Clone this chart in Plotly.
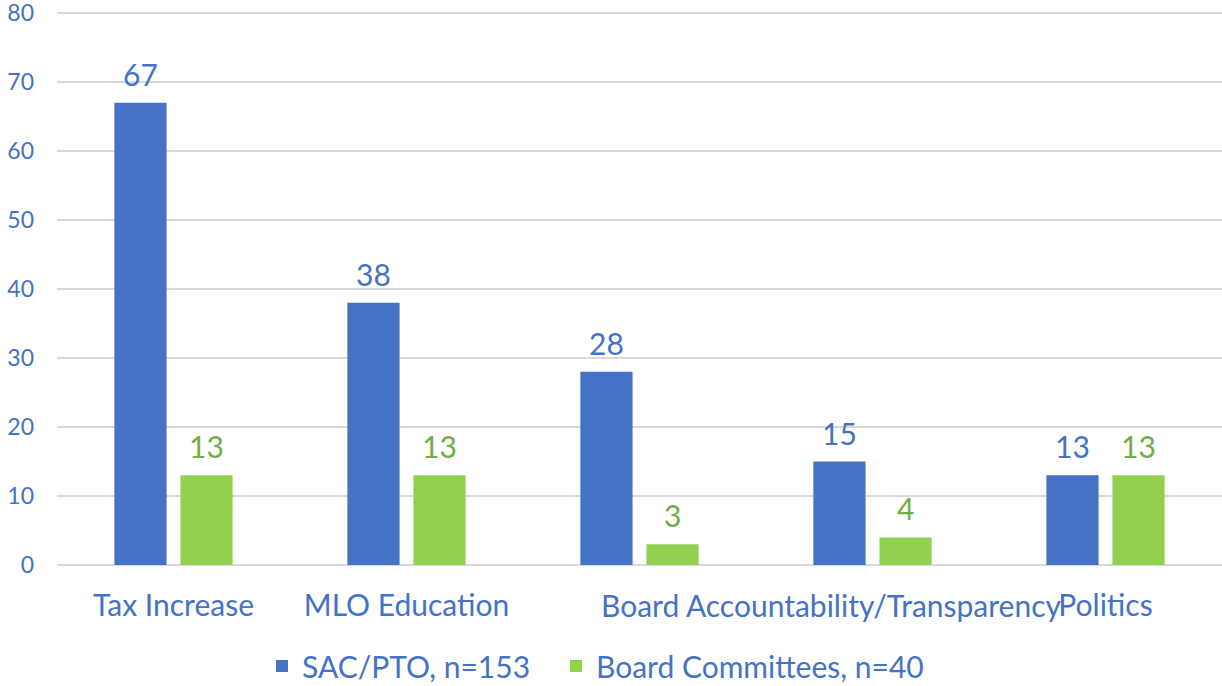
import plotly.graph_objects as go

categories = ["Tax Increase", "MLO Education", "Board Accountability", "Transparency", "Politics"]
tick_labels = ["Tax Increase", "MLO Education", "", "", "Politics"]
joined_label = "Board Accountability/Transparency"
sac_pto = [67, 38, 28, 15, 13]
board_committees = [13, 13, 3, 4, 13]
series_names = ["SAC/PTO, n=153", "Board Committees, n=40"]
y_ticks = [0, 10, 20, 30, 40, 50, 60, 70, 80]

BLUE = "#4472C4"
GREEN = "#92D050"
GREEN_TEXT = "#70AD47"
FONT = "Lato"

fig = go.Figure()
fig.add_trace(go.Bar(
    x=categories, y=sac_pto, name=series_names[0], legend="legend",
    marker=dict(color=BLUE, line=dict(width=0)),
))
fig.add_trace(go.Bar(
    x=categories, y=board_committees, name=series_names[1], legend="legend2",
    marker=dict(color=GREEN, line=dict(width=0)),
))

# value labels above each bar (half a group slot left/right of the category centre)
for vals, color, shift in [(sac_pto, BLUE, -33), (board_committees, GREEN_TEXT, 33)]:
    for cat, v in zip(categories, vals):
        fig.add_annotation(
            x=cat, y=v, xref="x", yref="y", text=str(v), showarrow=False,
            xshift=shift, yanchor="bottom", yshift=9,
            font=dict(color=color, size=30, family=FONT),
        )

fig.add_annotation(
    x=2.82, y=0, xref="x", yref="y", text=joined_label, showarrow=False,
    yanchor="top", yshift=-20,
    font=dict(color=BLUE, size=30, family=FONT),
)

legend_common = dict(orientation="h", yref="container", y=(686 - 666) / 686, yanchor="middle",
                     xref="container", xanchor="left",
                     font=dict(size=30, color=BLUE, family=FONT), bgcolor="rgba(0,0,0,0)")

fig.update_layout(
    width=1222, height=686,
    margin=dict(l=57, r=0, t=9, b=121, autoexpand=False),
    paper_bgcolor="white", plot_bgcolor="white",
    barmode="group", bargap=0.433, bargroupgap=0.21,
    font=dict(family=FONT, color=BLUE),
    showlegend=True,
    legend=dict(x=262 / 1222, **legend_common),
    legend2=dict(x=556 / 1222, **legend_common),
)
fig.update_xaxes(
    type="category", tickmode="array", tickvals=categories, ticktext=tick_labels,
    tickfont=dict(size=30, color=BLUE, family=FONT),
    showgrid=False, showline=False, ticks="", ticklabelstandoff=20, automargin=False,
)
fig.update_yaxes(
    range=[0, 80.58], tickmode="array", tickvals=y_ticks,
    tickfont=dict(size=23, color=BLUE, family=FONT), ticklabeloverflow="allow",
    showgrid=True, gridcolor="#D9D9D9", gridwidth=1.5,
    zeroline=True, zerolinecolor="#D9D9D9", zerolinewidth=1.5,
    showline=False, ticks="", ticklabelstandoff=22, automargin=False,
)

fig.write_html("out.html", config={"displayModeBar": False},
               post_script="document.body.style.margin='0';")
